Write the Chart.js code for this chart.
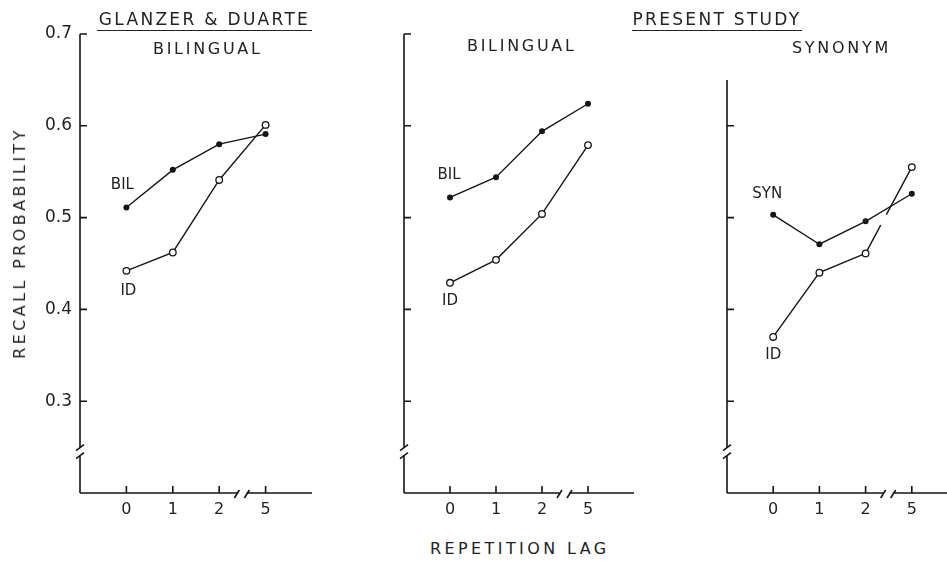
<!DOCTYPE html>
<html>
<head>
<meta charset="utf-8">
<style>
  body { margin: 0; width: 947px; height: 565px; overflow: hidden; background: #fff; position: relative; }
  canvas { position: absolute; top: 0; }
  .txt { position: absolute; font-family: "DejaVu Sans", sans-serif; color: #222; white-space: nowrap; line-height: 1; }
  .head { font-size: 17px; letter-spacing: 2.3px; line-height: 17px; padding-bottom: 2px; border-bottom: 1.5px solid #222; text-align: center; }
  .sub { font-size: 16px; letter-spacing: 2.7px; }
  .axt { font-size: 16px; letter-spacing: 3.4px; }
</style>
</head>
<body>
<canvas id="c1" width="330" height="530" style="left:0px"></canvas>
<canvas id="c2" width="320" height="530" style="left:330px"></canvas>
<canvas id="c3" width="320" height="530" style="left:650px"></canvas>

<div class="txt head" style="left:97px; top:11px; width:215px;">GLANZER &amp; DUARTE</div>
<div class="txt head" style="left:632px; top:11px; width:170px;">PRESENT STUDY</div>
<div class="txt sub" style="left:153px; top:41px;">BILINGUAL</div>
<div class="txt sub" style="left:467px; top:38px;">BILINGUAL</div>
<div class="txt sub" style="left:792px; top:40px;">SYNONYM</div>
<div class="txt axt" style="left:430px; top:541px;">REPETITION LAG</div>
<div class="txt axt" style="left:20px; top:243px; transform: translate(-50%,-50%) rotate(-90deg);">RECALL PROBABILITY</div>

<script src="https://cdn.jsdelivr.net/npm/chart.js"></script>
<script>
// repetition lag categories (the axis is broken between 2 and 5)
const lagLabels = ['0', '1', '2', '5'];
const yTicks = [0.3, 0.4, 0.5, 0.6, 0.7];

// Glanzer & Duarte, bilingual
const glanzerBil = [0.511, 0.552, 0.580, 0.591];
const glanzerId = [0.442, 0.462, 0.541, 0.601];
// present study, bilingual
const presentBil = [0.522, 0.544, 0.594, 0.624];
const presentId = [0.429, 0.454, 0.504, 0.579];
// present study, synonym
const synonymSyn = [0.503, 0.471, 0.496, 0.526];
const synonymId = [0.370, 0.440, 0.461, 0.555];

const ink = '#151515';
const font = { family: '"DejaVu Sans", sans-serif', size: 15 };

function pts(arr) { return arr.map((v, i) => ({ x: i, y: v })); }

function filled(arr) {
  return { data: pts(arr), borderColor: ink, borderWidth: 1.4, pointRadius: 3, pointBackgroundColor: ink, pointBorderWidth: 0 };
}
function open(arr, seg) {
  const d = { data: pts(arr), borderColor: ink, borderWidth: 1.4, pointRadius: 3.3, pointBackgroundColor: '#fff', pointBorderColor: ink, pointBorderWidth: 1.3 };
  if (seg) d.segment = seg;
  return d;
}

const brokenAxes = {
  id: 'brokenAxes',
  beforeDatasetsDraw(chart, args, o) {
    const { ctx, scales: { x, y } } = chart;
    const x0 = x.getPixelForValue(-1), xr = x.getPixelForValue(4);
    const y0 = y.getPixelForValue(0.2), yt = y.getPixelForValue(o.top);
    const yb = y.getPixelForValue(0.245), xb = x.getPixelForValue(2.5);
    ctx.save();
    ctx.strokeStyle = ink;
    ctx.lineWidth = 1.6;
    ctx.beginPath();
    // y axis with break
    ctx.moveTo(x0, yt); ctx.lineTo(x0, yb - 4);
    ctx.moveTo(x0 - 4, yb - 1); ctx.lineTo(x0 + 4, yb - 7);
    ctx.moveTo(x0 - 4, yb + 7); ctx.lineTo(x0 + 4, yb + 1);
    ctx.moveTo(x0, yb + 4); ctx.lineTo(x0, y0);
    // x axis with break
    ctx.moveTo(x0, y0); ctx.lineTo(xb - 5, y0);
    ctx.moveTo(xb - 8, y0 + 5); ctx.lineTo(xb - 3, y0 - 3);
    ctx.moveTo(xb + 2, y0 + 5); ctx.lineTo(xb + 7, y0 - 3);
    ctx.moveTo(xb + 4, y0); ctx.lineTo(xr, y0);
    // inward ticks
    o.yTicks.forEach(v => { const p = y.getPixelForValue(v); ctx.moveTo(x0, p); ctx.lineTo(x0 + 7, p); });
    lagLabels.forEach((l, i) => { const p = x.getPixelForValue(i); ctx.moveTo(p, y0); ctx.lineTo(p, y0 - 7); });
    ctx.stroke();
    // series names next to the first point
    ctx.fillStyle = '#222';
    ctx.font = '15px "DejaVu Sans", sans-serif';
    ctx.textAlign = 'center';
    ctx.textBaseline = 'middle';
    o.notes.forEach(n => {
      const pt = chart.data.datasets[n.ds].data[0];
      ctx.fillText(n.text, x.getPixelForValue(pt.x) + n.dx, y.getPixelForValue(pt.y) + n.dy);
    });
    ctx.restore();
  }
};

function makePanel(id, datasets, opt) {
  new Chart(document.getElementById(id), {
    type: 'line',
    data: { datasets: datasets },
    plugins: [brokenAxes],
    options: {
      responsive: false,
      animation: false,
      layout: { padding: { top: 34, right: opt.right, left: 0, bottom: 0 } },
      scales: {
        x: {
          type: 'linear', min: -1, max: 4,
          afterBuildTicks: s => { s.ticks = lagLabels.map((l, i) => ({ value: i })); },
          afterFit: s => { s.height = 37; },
          ticks: { callback: v => lagLabels[v], padding: 7, font: { ...font, size: 16 }, color: '#222', autoSkip: false, maxRotation: 0 },
          grid: { display: false, drawTicks: false },
          border: { display: false }
        },
        y: {
          min: 0.2, max: 0.7,
          afterBuildTicks: s => { s.ticks = yTicks.map(v => ({ value: v })); },
          afterFit: s => { s.width = opt.yWidth; },
          ticks: { display: opt.yLabels, callback: v => v.toFixed(1), padding: 8, font: { ...font, size: 17 }, color: '#222' },
          grid: { display: false, drawTicks: false },
          border: { display: false }
        }
      },
      plugins: {
        legend: { display: false },
        tooltip: { enabled: false },
        brokenAxes: { top: opt.top, yTicks: opt.yTicks, notes: opt.notes }
      }
    }
  });
}

makePanel('c1', [filled(glanzerBil), open(glanzerId)], {
  right: 18, yWidth: 80, yLabels: true, top: 0.7, yTicks: yTicks,
  notes: [{ ds: 0, text: 'BIL', dx: -4, dy: -22 }, { ds: 1, text: 'ID', dx: 2, dy: 20 }]
});
makePanel('c2', [filled(presentBil), open(presentId)], {
  right: 16, yWidth: 74, yLabels: false, top: 0.7, yTicks: yTicks,
  notes: [{ ds: 0, text: 'BIL', dx: -1, dy: -22 }, { ds: 1, text: 'ID', dx: 0, dy: 18 }]
});
makePanel('c3', [filled(synonymSyn), open(synonymId, {
  borderDash: c => c.p0DataIndex === 2 ? [32, 12, 200, 1] : undefined
})], {
  right: 12, yWidth: 77, yLabels: false, top: 0.65, yTicks: yTicks.slice(0, 4),
  notes: [{ ds: 0, text: 'SYN', dx: -6, dy: -21 }, { ds: 1, text: 'ID', dx: 0, dy: 18 }]
});
</script>
</body>
</html>
